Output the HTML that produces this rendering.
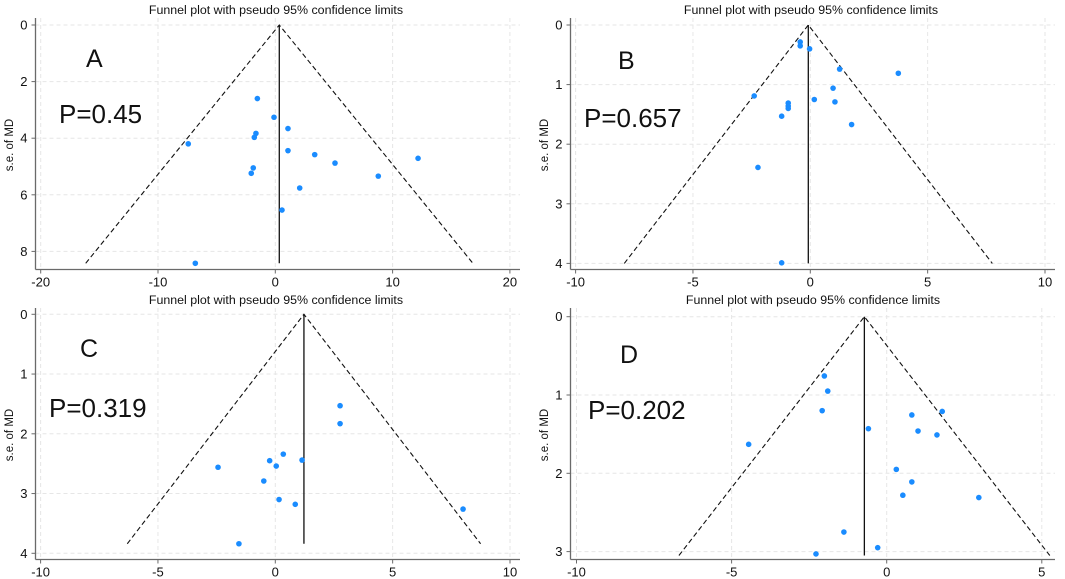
<!DOCTYPE html>
<html><head><meta charset="utf-8"><style>
html,body{margin:0;padding:0;background:#fff;}
svg{position:absolute;display:block;font-family:"Liberation Sans",sans-serif;}
</style></head><body>
<svg id="pA" style="left:0;top:0" width="532" height="290"></svg>
<svg id="pB" style="left:535;top:0" width="530" height="290"></svg>
<svg id="pC" style="left:0;top:290" width="532" height="289"></svg>
<svg id="pD" style="left:535;top:290" width="530" height="289"></svg>
<script>
// Panel A data
const aX=[-1.53,-0.11,1.08,-1.65,-1.79,-7.42,1.08,3.36,12.17,5.09,-1.88,-2.05,8.78,2.08,0.57,-6.82];
const aSE=[2.6,3.26,3.66,3.83,3.97,4.2,4.44,4.58,4.71,4.88,5.05,5.24,5.34,5.76,6.54,8.42];
const aXTicks=[-20,-10,0,10,20];
const aYTicks=[0,2,4,6,8];
const aPooled=0.34, aMaxSE=8.42;
// Panel B data
const bX=[-0.43,-0.43,-0.03,1.25,3.75,0.97,-2.39,0.17,1.05,-0.94,-0.94,-0.94,-1.22,1.76,-2.23,-1.22];
const bSE=[0.285,0.35,0.40,0.74,0.81,1.06,1.19,1.25,1.29,1.31,1.36,1.40,1.53,1.67,2.39,3.99];
const bXTicks=[-10,-5,0,5,10];
const bYTicks=[0,1,2,3,4];
const bPooled=-0.085, bMaxSE=4.0;
// Panel C data
const cX=[2.76,2.76,0.34,-0.24,1.14,0.04,-2.44,-0.49,0.16,0.85,8.0,-1.55];
const cSE=[1.53,1.83,2.34,2.45,2.44,2.54,2.56,2.79,3.1,3.18,3.26,3.84];
const cXTicks=[-10,-5,0,5,10];
const cYTicks=[0,1,2,3,4];
const cPooled=1.22, cMaxSE=3.84;
// Panel D data
const dX=[-2.01,-1.90,-2.08,0.81,1.79,-0.59,1.01,1.62,-4.45,0.31,0.81,0.52,2.97,-1.38,-0.29,-2.28];
const dSE=[0.757,0.95,1.20,1.255,1.21,1.43,1.46,1.51,1.63,1.95,2.11,2.28,2.31,2.75,2.95,3.03];
const dXTicks=[-10,-5,0,5];
const dYTicks=[0,1,2,3];
const dPooled=-0.72, dMaxSE=3.05;

const NS="http://www.w3.org/2000/svg";
function mk(svg,tag,attrs,name){const e=document.createElementNS(NS,tag);for(const k in attrs)e.setAttribute(k,attrs[k]);


svg.appendChild(e);return e;}

function panel(id,xs,ses,xt,yt,pooled,maxSE,cfg){
  const svg=document.getElementById(id);
  const sx=v=>cfg.x0+v*cfg.kx, sy=v=>cfg.y0+v*cfg.ky;
  const L=35.5,B=269.5,R=cfg.right;
  xt.forEach(t=>mk(svg,'line',{x1:sx(t),x2:sx(t),y1:18,y2:B,stroke:'#e6e6e6','stroke-dasharray':'4,3','stroke-width':1},'x-gridline'));
  yt.forEach(t=>mk(svg,'line',{x1:L,x2:R,y1:sy(t),y2:sy(t),stroke:'#e6e6e6','stroke-dasharray':'4,3','stroke-width':1},'y-gridline'));
  mk(svg,'line',{x1:L,x2:L,y1:18,y2:B,stroke:'#6a6a6a','stroke-width':1.3},'y-axis');
  mk(svg,'line',{x1:L,x2:R,y1:B,y2:B,stroke:'#6a6a6a','stroke-width':1.3},'x-axis');
  xt.forEach(t=>{mk(svg,'line',{x1:sx(t),x2:sx(t),y1:B,y2:B+4,stroke:'#6a6a6a'},'x-tick');
    const tx=mk(svg,'text',{x:sx(t),y:B+17,'font-size':13,'text-anchor':'middle',fill:'#111'},'x-tick-label');tx.textContent=t;});
  yt.forEach(t=>{mk(svg,'line',{x1:L-4,x2:L,y1:sy(t),y2:sy(t),stroke:'#6a6a6a'},'y-tick');
    const tx=mk(svg,'text',{x:L-8,y:sy(t)+4.5,'font-size':13,'text-anchor':'end',fill:'#111'},'y-tick-label');tx.textContent=t;});
  const yl=mk(svg,'text',{x:0,y:0,'font-size':11.5,'text-anchor':'middle',fill:'#111',transform:`translate(13,145) rotate(-90)`},'y-axis-title');yl.textContent='s.e. of MD';
  const ti=mk(svg,'text',{x:cfg.tx,y:14,'font-size':12.4,'text-anchor':'middle',fill:'#111'},'chart-title');ti.textContent='Funnel plot with pseudo 95% confidence limits';
  const d=1.96*maxSE;
  mk(svg,'polyline',{points:`${sx(pooled-d)},${sy(maxSE)} ${sx(pooled)},${sy(0)} ${sx(pooled+d)},${sy(maxSE)}`,fill:'none',stroke:'#111','stroke-width':1.1,'stroke-dasharray':'5,3'},'confidence-limits');
  mk(svg,'line',{x1:sx(pooled),x2:sx(pooled),y1:sy(0),y2:sy(maxSE),stroke:'#111','stroke-width':1.3},'pooled-estimate-line');
  xs.forEach((v,i)=>mk(svg,'circle',{cx:sx(v),cy:sy(ses[i]),r:2.8,fill:'#1a8cff'},'study-point'));
  const lt=mk(svg,'text',{x:cfg.lx,y:cfg.ly,'font-size':25,fill:'#111'},'panel-letter');lt.textContent=cfg.letter;
  const pt=mk(svg,'text',{x:cfg.px,y:cfg.py,'font-size':26,fill:'#111'},'p-value-label');pt.textContent=cfg.p;
}
panel('pA',aX,aSE,aXTicks,aYTicks,aPooled,aMaxSE,{x0:275.3,kx:11.73,y0:25,ky:28.3,right:520,tx:276,letter:'A',lx:86,ly:67,p:'P=0.45',px:59,py:123});
panel('pB',bX,bSE,bXTicks,bYTicks,bPooled,bMaxSE,{x0:275.3,kx:23.47,y0:25,ky:59.6,right:520,tx:276,letter:'B',lx:83,ly:69,p:'P=0.657',px:49,py:127});
panel('pC',cX,cSE,cXTicks,cYTicks,cPooled,cMaxSE,{x0:275.3,kx:23.47,y0:24.3,ky:59.75,right:520,tx:276,letter:'C',lx:80,ly:67,p:'P=0.319',px:49,py:127});
panel('pD',dX,dSE,dXTicks,dYTicks,dPooled,dMaxSE,{x0:351.7,kx:31.02,y0:26.7,ky:78.3,right:520,tx:278,letter:'D',lx:85,ly:73,p:'P=0.202',px:53,py:129});
</script>
</body></html>
